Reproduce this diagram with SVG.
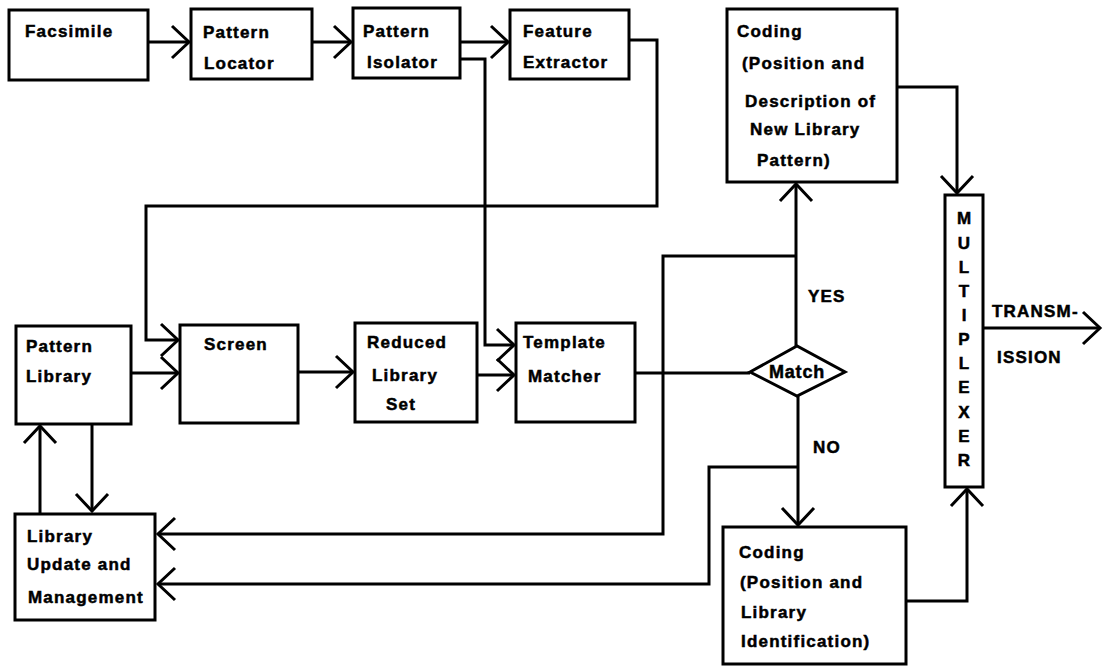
<svg xmlns="http://www.w3.org/2000/svg" width="1103" height="666" viewBox="0 0 1103 666">
<defs>
<style>
.box{fill:#fff;stroke:#000;stroke-width:3}
.t{font-family:"Liberation Sans",Arial,sans-serif;font-weight:bold;font-size:17px;letter-spacing:1.2px;fill:#000;stroke:#000;stroke-width:0.5}
.c{fill:none;stroke:#000;stroke-width:3}
.m{text-anchor:middle;letter-spacing:0}
</style>
<marker id="ah" markerUnits="userSpaceOnUse" markerWidth="44" markerHeight="44" viewBox="-22 -22 44 44" refX="0" refY="0" orient="auto">
<path d="M-17,-16 L0,0 L-17,16" fill="none" stroke="#000" stroke-width="3"/>
</marker>
</defs>
<rect width="1103" height="666" fill="#fff"/>
<g id="connectors">
<path class="c" d="M148 42 H189" marker-end="url(#ah)"/>
<path class="c" d="M312 42 H351" marker-end="url(#ah)"/>
<path class="c" d="M460 42 H508" marker-end="url(#ah)"/>
<path class="c" d="M460 59 H485 V345 H514" marker-end="url(#ah)"/>
<path class="c" d="M629 40 H657 V206 H146 V340 H178" marker-end="url(#ah)"/>
<path class="c" d="M131 373 H178" marker-end="url(#ah)"/>
<path class="c" d="M298 372 H353" marker-end="url(#ah)"/>
<path class="c" d="M477 375 H514" marker-end="url(#ah)"/>
<path class="c" d="M635 373 H750"/>
<path class="c" d="M796 346 V184" marker-end="url(#ah)"/>
<path class="c" d="M796 256 H663 V534 H158" marker-end="url(#ah)"/>
<path class="c" d="M798 396 V525" marker-end="url(#ah)"/>
<path class="c" d="M798 467 H709 V584 H158" marker-end="url(#ah)"/>
<path class="c" d="M897 87 H957 V193" marker-end="url(#ah)"/>
<path class="c" d="M906 601 H967 V489" marker-end="url(#ah)"/>
<path class="c" d="M983 328 H1100" marker-end="url(#ah)"/>
<path class="c" d="M40 513 V426" marker-end="url(#ah)"/>
<path class="c" d="M92 424 V511" marker-end="url(#ah)"/>
</g>
<g id="facsimile"><rect class="box" x="9" y="10" width="139" height="70"/><text class="t" x="25" y="37">Facsimile</text></g>
<g id="pattern-locator"><rect class="box" x="191" y="9" width="121" height="70"/><text class="t" x="203" y="38">Pattern</text><text class="t" x="204" y="69">Locator</text></g>
<g id="pattern-isolator"><rect class="box" x="353" y="8" width="107" height="70"/><text class="t" x="363" y="37">Pattern</text><text class="t" x="367" y="68">Isolator</text></g>
<g id="feature-extractor"><rect class="box" x="510" y="10" width="119" height="69"/><text class="t" x="523" y="37">Feature</text><text class="t" x="523" y="68">Extractor</text></g>
<g id="coding-new"><rect class="box" x="727" y="9" width="170" height="173"/><text class="t" x="737" y="37">Coding</text><text class="t" x="742" y="69">(Position and</text><text class="t" x="745" y="107">Description of</text><text class="t" x="750" y="135">New Library</text><text class="t" x="757" y="166">Pattern)</text></g>
<g id="multiplexer"><rect class="box" x="945" y="195" width="38" height="292"/>
<text class="t m" x="964"><tspan x="964" y="224">M</tspan><tspan x="964" y="249">U</tspan><tspan x="964" y="273">L</tspan><tspan x="964" y="297">T</tspan><tspan x="964" y="321">I</tspan><tspan x="964" y="345">P</tspan><tspan x="964" y="369">L</tspan><tspan x="964" y="393">E</tspan><tspan x="964" y="418">X</tspan><tspan x="964" y="442">E</tspan><tspan x="964" y="466">R</tspan></text></g>
<g id="transmission-label"><text class="t" x="992" y="317">TRANSM-</text><text class="t" x="997" y="363">ISSION</text></g>
<g id="pattern-library"><rect class="box" x="16" y="326" width="115" height="98"/><text class="t" x="26" y="352">Pattern</text><text class="t" x="26" y="382">Library</text></g>
<g id="screen"><rect class="box" x="180" y="325" width="118" height="98"/><text class="t" x="204" y="350">Screen</text></g>
<g id="reduced-library-set"><rect class="box" x="355" y="323" width="122" height="99"/><text class="t" x="367" y="348">Reduced</text><text class="t" x="372" y="381">Library</text><text class="t" x="386" y="410">Set</text></g>
<g id="template-matcher"><rect class="box" x="516" y="323" width="119" height="99"/><text class="t" x="523" y="348">Template</text><text class="t" x="528" y="382">Matcher</text></g>
<g id="match"><polygon class="box" points="750,372 797,346 845,372 797,396"/><text class="t m" x="797" y="378" style="font-size:18px;letter-spacing:0.8px">Match</text></g>
<g id="branch-labels"><text class="t" x="808" y="302">YES</text><text class="t" x="813" y="453">NO</text></g>
<g id="library-update"><rect class="box" x="15" y="514" width="140" height="106"/><text class="t" x="27" y="542">Library</text><text class="t" x="27" y="570">Update and</text><text class="t" x="28" y="603">Management</text></g>
<g id="coding-library"><rect class="box" x="723" y="527" width="183" height="137"/><text class="t" x="739" y="558">Coding</text><text class="t" x="740" y="588">(Position and</text><text class="t" x="741" y="618">Library</text><text class="t" x="741" y="647">Identification)</text></g>
</svg>
